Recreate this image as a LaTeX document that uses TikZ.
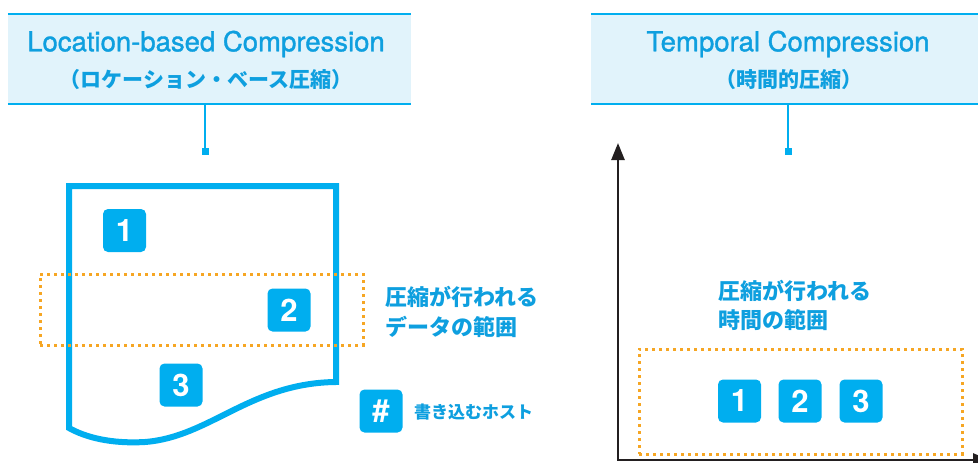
\documentclass[tikz,border=0pt]{standalone}
\usepackage{fontspec}
\setmainfont{TeX Gyre Heros}
\newfontfamily\ttlfont[FakeBold=1.3]{TeX Gyre Heros}
\newfontfamily\jp{Noto Sans CJK JP}
\usetikzlibrary{arrows.meta}
\definecolor{cy}{HTML}{00AEEF}
\definecolor{cytext}{HTML}{0E9FDF}
\definecolor{hdrfill}{HTML}{E1F3FB}
\definecolor{orng}{HTML}{F6A623}
\definecolor{axiscol}{HTML}{231F20}
\begin{document}
\begin{tikzpicture}[x=1pt,y=-1pt,
  hdr/.style={fill=hdrfill, inner sep=0, minimum height=90},
  hdrline/.style={draw=cy, line width=2},
  ttl/.style={text=cytext, font=\ttlfont\fontsize{27.5}{27.5}\selectfont, inner sep=0},
  ttljp/.style={text=cytext, font=\jp\bfseries\fontsize{21}{21}\selectfont, inner sep=0},
  conn/.style={draw=cy, line width=2},
  endsq/.style={fill=cy, minimum size=7, inner sep=0},
  numbox/.style={fill=cy, rounded corners=5, minimum size=43, inner sep=0, text=white, font=\fontsize{31}{31}\selectfont\bfseries},
  zone/.style={draw=orng, line width=3, dash pattern=on 3pt off 4pt, inner sep=0},
  lbl/.style={text=cytext, font=\jp\bfseries\fontsize{22}{22}\selectfont, inner sep=0, anchor=west},
  leg/.style={text=cytext, font=\jp\bfseries\fontsize{17}{17}\selectfont, inner sep=0, anchor=west},
  docline/.style={draw=cy, line width=6, line join=miter},
  axisline/.style={draw=axiscol, line width=2.5, line join=miter, {Triangle[length=17pt,width=13pt]}-{Triangle[length=17pt,width=13pt]}}
]
\clip (0,0) rectangle (978,463);
% headers
\node[hdr, minimum width=403] (hL) at (209.5,59) {};
\draw[hdrline] (hL.north west) -- (hL.north east);
\draw[hdrline] (hL.south west) -- (hL.south east);
\node[ttl] (tL1) at (206,44) {Location-based Compression};
\node[ttljp] (tL2) at (206,80) {（ロケーション・ベース圧縮）};
\node[endsq] (sqL) at (205,151) {};
\draw[conn] (sqL.center) -- (sqL.center |- hL.south);

\node[hdr, minimum width=400] (hR) at (791,59) {};
\draw[hdrline] (hR.north west) -- (hR.north east);
\draw[hdrline] (hR.south west) -- (hR.south east);
\node[ttl] (tR1) at (788,44) {Temporal Compression};
\node[ttljp] (tR2) at (789,80) {（時間的圧縮）};
\node[endsq] (sqR) at (788,151) {};
\draw[conn] (sqR.center) -- (sqR.center |- hR.south);

% left: document
\draw[docline] (69,428) -- (69,186) -- (336,186) -- (336,382)
  .. controls (250,383) and (210,437) .. (145,442)
  .. controls (110,444) and (85,437) .. cycle;
\node[zone, minimum width=323, minimum height=71] (zL) at (201.5,309.5) {};
\node[numbox] (b1) at (124.5,230.5) {1};
\node[numbox] (b2) at (289,310) {2};
\node[numbox] (b3) at (181,385) {3};
\node[lbl] (lL1) at (385,297) {圧縮が行われる};
\node[lbl] (lL2) at (385,327) {データの範囲};
\node[numbox] (bh) at (381,411) {\#};
\node[leg] (lg) at (414,412) {書き込むホスト};

% right: time axis
\coordinate (org) at (618,460);
\coordinate (ytop) at (618,143);
\coordinate (xend) at (990,460);
\draw[axisline] (ytop) -- (org) -- (xend);
\node[lbl] (lR1) at (718,291) {圧縮が行われる};
\node[lbl] (lR2) at (718,320) {時間の範囲};
\node[zone, minimum width=323, minimum height=105] (zR) at (800.5,401.5) {};
\node[numbox] (r1) at (739.5,401) {1};
\node[numbox] (r2) at (800,401) {2};
\node[numbox] (r3) at (861,401) {3};
\end{tikzpicture}
\end{document}
